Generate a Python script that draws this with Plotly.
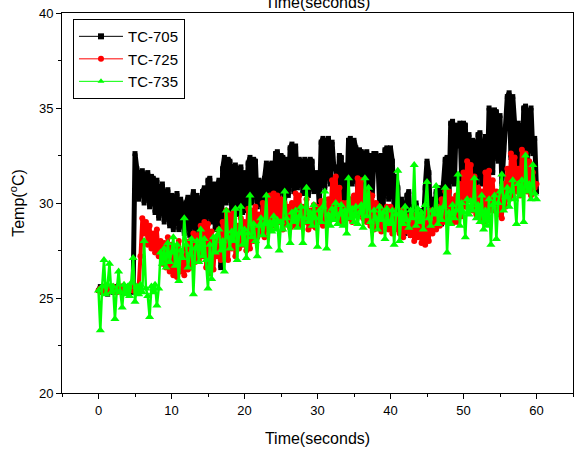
"""Temperature readings of three thermocouples over one minute."""

import numpy as np
import plotly.graph_objects as go

# sampling grid, 4 readings per second
time_s = np.arange(0, 60.01, 0.25)

# TC-705 (one row per second)
tc705 = [
    25.4, 25.6, 25.3, 25.5,
    25.5, 25.2, 25.6, 25.4,
    25.3, 25.5, 25.6, 25.4,
    25.5, 25.3, 25.4, 25.6,
    25.4, 25.5, 25.3, 25.6,
    32.6, 31.8, 30.2, 31.6,
    31.7, 30.0, 31.5, 31.6,
    29.8, 31.4, 31.3, 29.5,
    31.2, 29.2, 30.8, 31.0,
    29.0, 30.6, 30.7, 28.8,
    30.4, 28.6, 30.2, 30.5,
    28.6, 30.2, 29.8, 28.4,
    30.0, 30.3, 28.3, 30.1,
    30.6, 28.5, 30.4, 29.8,
    28.2, 30.6, 30.8, 28.8,
    31.2, 31.3, 29.0, 31.0,
    28.6, 30.8, 31.2, 26.6,
    31.8, 32.4, 30.0, 32.3,
    32.2, 29.6, 31.9, 32.0,
    29.4, 31.8, 31.9, 29.5,
    31.6, 29.6, 32.1, 32.4,
    30.0, 32.3, 32.2, 29.8,
    31.2, 31.0, 29.5, 31.3,
    32.1, 30.0, 32.0, 32.1,
    29.9, 32.6, 32.7, 30.4,
    32.5, 32.4, 30.2, 32.3,
    30.4, 32.9, 33.1, 30.6,
    33.0, 30.8, 32.3, 32.2,
    30.5, 32.3, 32.2, 30.4,
    32.3, 32.2, 30.6, 31.6,
    31.5, 29.8, 33.2, 33.4,
    30.8, 33.3, 33.4, 31.0,
    33.2, 31.8, 31.9, 30.4,
    32.5, 32.4, 30.2, 32.0,
    30.0, 33.3, 33.4, 31.0,
    33.3, 32.9, 30.6, 32.8,
    32.7, 30.4, 32.6, 32.7,
    30.2, 32.5, 30.4, 32.6,
    32.6, 32.4, 30.0, 32.5,
    29.8, 32.8, 32.9, 30.2,
    32.9, 32.2, 29.6, 31.4,
    30.8, 28.6, 30.2, 29.4,
    28.4, 30.4, 30.6, 28.3,
    29.8, 28.4, 30.0, 29.2,
    28.6, 29.6, 28.8, 30.8,
    32.2, 31.6, 29.0, 30.2,
    28.8, 30.6, 29.4, 30.8,
    28.9, 31.0, 32.3, 32.4,
    30.0, 34.2, 34.3, 31.0,
    34.1, 33.0, 34.2, 31.2,
    34.2, 34.1, 31.6, 33.6,
    30.4, 33.3, 33.2, 31.0,
    33.6, 33.7, 31.0, 32.4,
    33.5, 31.2, 35.0, 34.8,
    31.6, 34.9, 34.8, 32.2,
    34.6, 31.0, 32.8, 34.0,
    35.6, 35.8, 32.4, 35.6,
    34.2, 31.8, 34.2, 33.0,
    31.6, 35.0, 35.1, 32.0,
    34.8, 35.0, 32.6, 33.4,
    30.6,
]

# TC-725
tc725 = [
    25.4, 25.5, 25.3, 25.6,
    25.4, 25.3, 25.5, 25.4,
    25.6, 25.4, 25.3, 25.5,
    25.4, 25.6, 25.5, 25.3,
    25.5, 25.4, 25.6, 25.4,
    25.5, 25.4, 25.6, 27.2,
    29.2, 28.4, 29.0, 27.8,
    28.8, 27.6, 28.4, 27.4,
    28.6, 27.2, 28.0, 26.8,
    27.9, 26.6, 28.2, 26.4,
    27.8, 26.2, 27.6, 26.1,
    28.0, 26.4, 27.2, 26.2,
    27.6, 26.5, 28.0, 26.6,
    28.4, 26.9, 28.3, 27.0,
    28.8, 27.2, 29.0, 26.6,
    28.9, 26.3, 28.5, 26.5,
    28.0, 27.2, 28.6, 27.0,
    29.0, 27.4, 29.6, 27.0,
    29.4, 27.6, 29.5, 27.2,
    28.8, 27.6, 29.2, 27.8,
    29.0, 27.5, 29.7, 27.6,
    29.6, 28.0, 29.8, 28.2,
    29.4, 28.4, 30.0, 28.2,
    29.8, 28.6, 30.4, 28.8,
    30.5, 28.8, 30.4, 29.0,
    30.2, 28.6, 30.0, 28.9,
    29.8, 28.7, 30.0, 28.8,
    30.5, 29.0, 30.4, 28.8,
    29.8, 29.0, 30.2, 28.6,
    29.6, 28.8, 29.9, 28.7,
    29.8, 29.0, 30.1, 28.8,
    29.9, 29.0, 30.2, 29.1,
    31.2, 29.4, 31.4, 29.2,
    30.8, 29.0, 30.0, 29.3,
    30.0, 29.2, 30.2, 29.0,
    30.4, 29.6, 31.3, 29.4,
    31.2, 29.2, 30.6, 29.0,
    30.5, 28.8, 30.4, 28.6,
    30.0, 28.8, 29.8, 28.5,
    29.6, 28.7, 29.8, 28.6,
    29.8, 28.4, 29.6, 28.6,
    29.4, 28.4, 29.6, 28.2,
    29.2, 28.5, 29.3, 28.3,
    29.0, 28.0, 29.4, 28.2,
    29.2, 27.9, 29.0, 27.8,
    29.5, 28.0, 29.6, 28.4,
    29.6, 28.6, 29.8, 28.8,
    30.2, 29.0, 30.6, 29.2,
    30.6, 29.4, 30.2, 29.0,
    30.4, 29.0, 31.0, 29.3,
    31.6, 29.8, 32.2, 30.2,
    32.0, 29.6, 31.4, 29.4,
    30.8, 29.2, 30.6, 29.0,
    31.6, 29.4, 31.7, 29.6,
    31.2, 29.6, 30.6, 29.4,
    30.4, 29.2, 31.0, 29.8,
    31.8, 30.2, 32.6, 30.4,
    32.4, 30.6, 31.8, 30.4,
    32.8, 30.8, 32.6, 30.6,
    32.2, 30.4, 31.6, 30.8,
    31.0,
]

# TC-735
tc735 = [
    25.4, 23.3, 25.6, 27.0,
    25.2, 25.7, 26.8, 25.3,
    25.6, 23.9, 25.4, 26.4,
    25.3, 24.5, 25.7, 25.2,
    25.6, 25.1, 25.8, 27.1,
    24.8, 25.6, 25.2, 25.7,
    25.3, 28.0, 25.5, 25.1,
    24.0, 25.6, 25.3, 25.7,
    24.6, 25.5, 27.4, 26.8,
    27.6, 26.6, 27.9, 26.9,
    27.4, 28.2, 26.7, 27.8,
    25.9, 27.5, 27.1, 29.2,
    27.8, 26.6, 27.3, 28.1,
    25.2, 27.6, 28.0, 26.9,
    28.6, 27.2, 28.1, 27.0,
    25.5, 27.8, 26.0, 28.2,
    27.4, 28.3, 28.6, 27.5,
    28.0, 26.4, 29.6, 28.2,
    27.6, 28.5, 28.0, 29.7,
    27.0, 28.4, 29.8, 27.8,
    28.6, 27.1, 28.4, 30.4,
    28.2, 28.9, 28.0, 27.2,
    28.8, 29.2, 28.3, 28.9,
    30.4, 27.7, 29.0, 28.5,
    29.3, 28.6, 29.1, 27.5,
    29.0, 28.6, 30.6, 29.2,
    28.8, 27.9, 29.5, 29.0,
    29.6, 28.7, 29.3, 29.8,
    27.9, 29.2, 30.8, 29.0,
    29.5, 28.8, 29.9, 29.2,
    27.7, 29.6, 29.0, 29.8,
    30.6, 27.6, 29.4, 28.8,
    29.7, 29.1, 30.0, 28.9,
    29.4, 29.9, 28.8, 29.6,
    28.4, 31.3, 29.2, 29.7,
    29.0, 29.8, 28.9, 29.5,
    29.9, 28.7, 31.3, 29.3,
    30.8, 29.0, 27.8, 29.6,
    29.2, 28.6, 29.8, 29.1,
    29.5, 28.1, 29.7, 29.0,
    28.9, 29.6, 27.8, 29.4,
    31.7, 28.0, 29.5, 28.9,
    29.8, 29.1, 28.7, 29.6,
    29.2, 32.0, 28.8, 29.7,
    29.0, 29.5, 28.6, 29.9,
    31.1, 29.2, 28.8, 29.6,
    29.4, 30.9, 28.9, 29.7,
    29.1, 29.8, 30.8, 27.4,
    29.5, 28.9, 29.9, 29.2,
    29.6, 31.5, 28.8, 30.0,
    29.5, 28.2, 30.2, 29.4,
    30.1, 29.6, 31.3, 29.2,
    29.9, 29.0, 30.4, 28.6,
    29.6, 28.8, 30.2, 27.8,
    29.9, 30.4, 28.1, 30.0,
    30.6, 31.5, 29.6, 30.3,
    30.8, 29.8, 30.6, 31.2,
    30.2, 28.9, 31.0, 30.4,
    31.2, 29.0, 32.5, 30.6,
    31.0, 30.2, 32.0, 30.5,
    30.2,
]

series = [
    ("TC-705", tc705, "#000000", "square", 5, 5.0),
    ("TC-725", tc725, "#ff0000", "circle", 6, 4.0),
    ("TC-735", tc735, "#00ff00", "triangle-up", 8, 2.5),
]

fig = go.Figure()
for name, values, color, symbol, msize, lw in series:
    fig.add_trace(go.Scatter(
        x=time_s, y=values, name=name, mode="lines+markers",
        line=dict(color=color, width=lw),
        marker=dict(symbol=symbol, size=msize, color=color),
        showlegend=False,
    ))
# legend entries with the thin line look of the original
for name, values, color, symbol, msize, lw in series:
    fig.add_trace(go.Scatter(
        x=[None], y=[None], name=name, mode="lines+markers",
        line=dict(color=color, width=1),
        marker=dict(symbol=symbol, size=6, color=color),
    ))

axis_style = dict(
    showline=True, linecolor="black", linewidth=1, mirror=True,
    showgrid=False, zeroline=False,
    ticks="outside", ticklen=5, tickcolor="black",
    tickfont=dict(family="Arial, Liberation Sans", size=13, color="black"),
)

fig.update_xaxes(
    range=[-5, 65], tick0=0, dtick=10,
    minor=dict(ticks="outside", dtick=5, ticklen=3, tickcolor="black"),
    title=dict(text="Time(seconds)", font=dict(size=16, color="black"), standoff=16),
    **axis_style,
)
fig.update_yaxes(
    range=[20, 40], tick0=20, dtick=5,
    minor=dict(ticks="outside", dtick=2.5, ticklen=3, tickcolor="black"),
    title=dict(text="Temp(<sup>o</sup>C)", font=dict(size=16, color="black"), standoff=10),
    **axis_style,
)

# top axis title, mostly cut off by the page edge
fig.add_annotation(
    text="Time(seconds)", xref="paper", yref="paper", x=0.5, y=1,
    xanchor="center", yanchor="bottom", showarrow=False,
    font=dict(size=16, color="black"),
)

fig.update_layout(
    width=574, height=450,
    margin=dict(l=62, r=1, t=13, b=57),
    paper_bgcolor="white", plot_bgcolor="white",
    font=dict(family="Arial, Liberation Sans", color="black"),
    showlegend=True,
    legend=dict(
        x=0.0215, y=0.984, xanchor="left", yanchor="top",
        bgcolor="white", bordercolor="black", borderwidth=1,
        font=dict(size=15), itemwidth=44,
    ),
)

fig.write_html(
    "out.html",
    config={"displayModeBar": False},
    post_script="document.body.style.margin = '0';",
)
